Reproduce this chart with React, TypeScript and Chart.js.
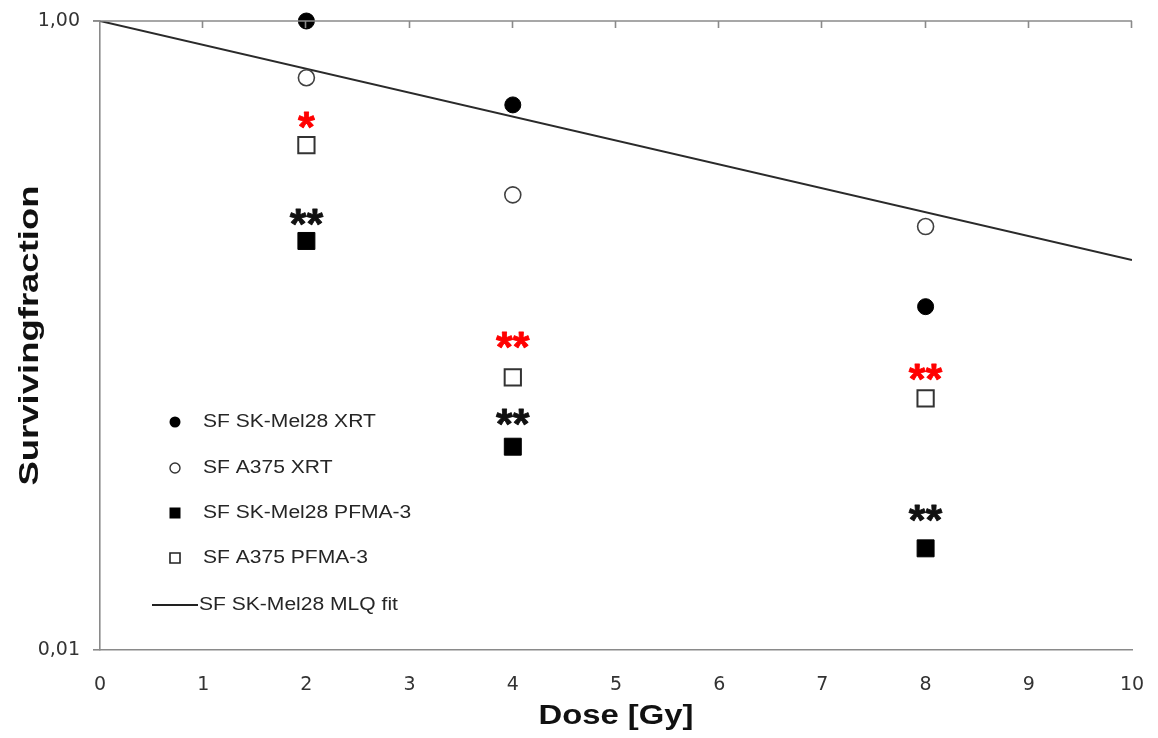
import { useEffect, useRef } from 'react';
import { Chart, registerables } from 'chart.js';

Chart.register(...registerables);

// ---- data ----
const doses = [2, 4, 8];
const skMel28Xrt = [1.0, 0.541, 0.1235];
const a375Xrt = [0.66, 0.28, 0.222];
const skMel28Pfma = [0.1998, 0.0443, 0.02105];
const a375Pfma = [0.403, 0.0736, 0.0631];
const fitDoses = [0, 10];
const fitValues = [1.0, 0.1738];

const xTicks = [0, 1, 2, 3, 4, 5, 6, 7, 8, 9, 10];
const yTicks = [0.01, 1];

const seriesLabels = [
  'SF SK-Mel28 XRT',
  'SF A375 XRT',
  'SF SK-Mel28 PFMA-3',
  'SF A375 PFMA-3',
  'SF SK-Mel28 MLQ fit',
];

const starDoses = [2, 2, 4, 4, 8, 8];
const starValues = [0.484, 0.2386, 0.0967, 0.0549, 0.0767, 0.0272];
const starTexts = ['*', '**', '**', '**', '**', '**'];
const starColors = ['#ff0000', '#111111', '#ff0000', '#111111', '#ff0000', '#111111'];

const xTitle = 'Dose [Gy]';
const yTitle = 'Survivingfraction';

const AXIS_GRAY = '#8a8a8a';

function drawStretchedText(
  ctx: CanvasRenderingContext2D,
  text: string,
  x: number,
  y: number,
  font: string,
  color: string,
  sx: number,
  align: CanvasTextAlign,
  rotation = 0
) {
  ctx.save();
  ctx.font = font;
  ctx.fillStyle = color;
  ctx.textAlign = align;
  ctx.textBaseline = 'middle';
  ctx.translate(x, y);
  if (rotation) ctx.rotate(rotation);
  ctx.scale(sx, 1);
  ctx.fillText(text, 0, 0);
  ctx.restore();
}

const decorPlugin = {
  id: 'decor',
  afterDatasetsDraw(chart: any) {
    const ctx: CanvasRenderingContext2D = chart.ctx;
    const xs = chart.scales.x;
    const ys = chart.scales.y;
    ctx.save();
    ctx.font = 'bold 43px "Liberation Sans", Arial, sans-serif';
    ctx.textAlign = 'center';
    ctx.textBaseline = 'alphabetic';
    ctx.lineJoin = 'round';
    starTexts.forEach((t, i) => {
      const px = xs.getPixelForValue(starDoses[i]);
      const py = ys.getPixelForValue(starValues[i]);
      const m = ctx.measureText(t);
      const y0 = py + (m.actualBoundingBoxAscent - m.actualBoundingBoxDescent) / 2;
      ctx.fillStyle = starColors[i];
      ctx.strokeStyle = starColors[i];
      ctx.lineWidth = 0.8;
      ctx.fillText(t, px, y0);
      ctx.strokeText(t, px, y0);
    });
    ctx.restore();
  },
  afterDraw(chart: any) {
    const ctx: CanvasRenderingContext2D = chart.ctx;
    const area = chart.chartArea;
    const xs = chart.scales.x;

    // top axis line with inward ticks
    ctx.save();
    ctx.strokeStyle = AXIS_GRAY;
    ctx.lineWidth = 1.6;
    ctx.beginPath();
    ctx.moveTo(area.left - 7, area.top);
    ctx.lineTo(area.right, area.top);
    xTicks.forEach((v) => {
      if (v === 0) return;
      const px = Math.round(xs.getPixelForValue(v)) - 0.5;
      ctx.moveTo(px, area.top);
      ctx.lineTo(px, area.top + 7);
    });
    ctx.stroke();
    ctx.restore();

    // legend (inside plot, lower left)
    const lx = area.left + 75;
    const tx = area.left + 103;
    const rows = [401, 447, 492, 537, 584].map((d) => area.top + d);
    ctx.save();
    // filled circle
    ctx.fillStyle = '#000';
    ctx.beginPath();
    ctx.arc(lx, rows[0], 5.5, 0, Math.PI * 2);
    ctx.fill();
    // open circle
    ctx.strokeStyle = '#333';
    ctx.lineWidth = 1.4;
    ctx.fillStyle = '#fff';
    ctx.beginPath();
    ctx.arc(lx, rows[1], 5, 0, Math.PI * 2);
    ctx.fill();
    ctx.stroke();
    // filled square
    ctx.fillStyle = '#000';
    ctx.fillRect(lx - 5.5, rows[2] - 5.5, 11, 11);
    // open square
    ctx.fillStyle = '#fff';
    ctx.strokeStyle = '#222';
    ctx.lineWidth = 1.6;
    ctx.beginPath();
    ctx.rect(lx - 5, rows[3] - 5, 10, 10);
    ctx.fill();
    ctx.stroke();
    // line
    ctx.strokeStyle = '#222';
    ctx.lineWidth = 1.8;
    ctx.beginPath();
    ctx.moveTo(area.left + 52, rows[4]);
    ctx.lineTo(area.left + 98, rows[4]);
    ctx.stroke();
    ctx.restore();

    seriesLabels.forEach((lab, i) => {
      const x = i === 4 ? area.left + 99 : tx;
      drawStretchedText(ctx, lab, x, rows[i], '18px "Liberation Sans", Arial, sans-serif', '#262626', 1.17, 'left');
    });

    // axis titles
    const titleFont = 'bold 28px "Liberation Sans", Arial, sans-serif';
    ctx.save();
    ctx.font = titleFont;
    const wx = ctx.measureText(xTitle).width;
    const wy = ctx.measureText(yTitle).width;
    ctx.restore();
    drawStretchedText(ctx, xTitle, (area.left + area.right) / 2, 716, titleFont, '#111', 155 / wx, 'center');
    drawStretchedText(ctx, yTitle, 30, (area.top + area.bottom) / 2, titleFont, '#111', 300 / wy, 'center', -Math.PI / 2);
  },
};

export default function App() {
  const ref = useRef<HTMLCanvasElement | null>(null);

  useEffect(() => {
    if (!ref.current) return;
    const chart = new Chart(ref.current, {
      type: 'scatter',
      data: {
        datasets: [
          {
            label: seriesLabels[0],
            data: doses.map((d, i) => ({ x: d, y: skMel28Xrt[i] })),
            pointStyle: 'circle',
            pointRadius: 8,
            backgroundColor: '#000',
            borderColor: '#000',
            borderWidth: 1,
            clip: false,
          },
          {
            label: seriesLabels[1],
            data: doses.map((d, i) => ({ x: d, y: a375Xrt[i] })),
            pointStyle: 'circle',
            pointRadius: 8,
            backgroundColor: '#fff',
            borderColor: '#404040',
            borderWidth: 1.6,
            clip: false,
          },
          {
            label: seriesLabels[2],
            data: doses.map((d, i) => ({ x: d, y: skMel28Pfma[i] })),
            pointStyle: 'rect',
            pointRadius: 12,
            backgroundColor: '#000',
            borderColor: '#000',
            borderWidth: 1,
            clip: false,
          },
          {
            label: seriesLabels[3],
            data: doses.map((d, i) => ({ x: d, y: a375Pfma[i] })),
            pointStyle: 'rect',
            pointRadius: 11.5,
            backgroundColor: '#fff',
            borderColor: '#333',
            borderWidth: 2,
            clip: false,
          },
          {
            type: 'line',
            label: seriesLabels[4],
            data: fitDoses.map((d, i) => ({ x: d, y: fitValues[i] })),
            showLine: true,
            pointRadius: 0,
            borderColor: '#2a2a2a',
            borderWidth: 2,
            fill: false,
            tension: 0,
          } as any,
        ],
      },
      options: {
        responsive: false,
        animation: false,
        layout: { padding: { left: 0, right: 26, top: 21, bottom: 0 } },
        plugins: {
          legend: { display: false },
          tooltip: { enabled: false },
          title: { display: false },
        },
        scales: {
          x: {
            type: 'linear',
            min: 0,
            max: 10,
            afterBuildTicks: (s: any) => {
              s.ticks = xTicks.map((v) => ({ value: v }));
            },
            afterFit: (s: any) => {
              s.height = 88;
              s.paddingLeft = 0;
              s.paddingRight = 0;
            },
            grid: { display: false, drawTicks: false },
            border: { display: true, color: AXIS_GRAY, width: 1.6 },
            ticks: {
              padding: 24,
              color: '#333',
              font: { family: 'DejaVu Sans', size: 19 },
              maxRotation: 0,
            },
          },
          y: {
            type: 'logarithmic',
            min: 0.01,
            max: 1,
            afterBuildTicks: (s: any) => {
              s.ticks = yTicks.map((v) => ({ value: v }));
            },
            afterFit: (s: any) => {
              s.width = 100;
              s.paddingTop = 0;
              s.paddingBottom = 0;
            },
            grid: {
              display: true,
              drawOnChartArea: false,
              drawTicks: true,
              tickLength: 7,
              color: AXIS_GRAY,
              lineWidth: 1.6,
            },
            border: { display: true, color: AXIS_GRAY, width: 1.6 },
            ticks: {
              padding: 13,
              color: '#333',
              font: { family: 'DejaVu Sans', size: 19 },
              callback: (v: any) => Number(v).toFixed(2).replace('.', ','),
            },
          },
        },
      },
      plugins: [decorPlugin],
    });
    return () => chart.destroy();
  }, []);

  return (
    <div style={{ position: 'absolute', left: 0, top: 0, width: 1158, height: 738, background: '#fff' }}>
      <canvas ref={ref} width={1158} height={738} />
    </div>
  );
}
